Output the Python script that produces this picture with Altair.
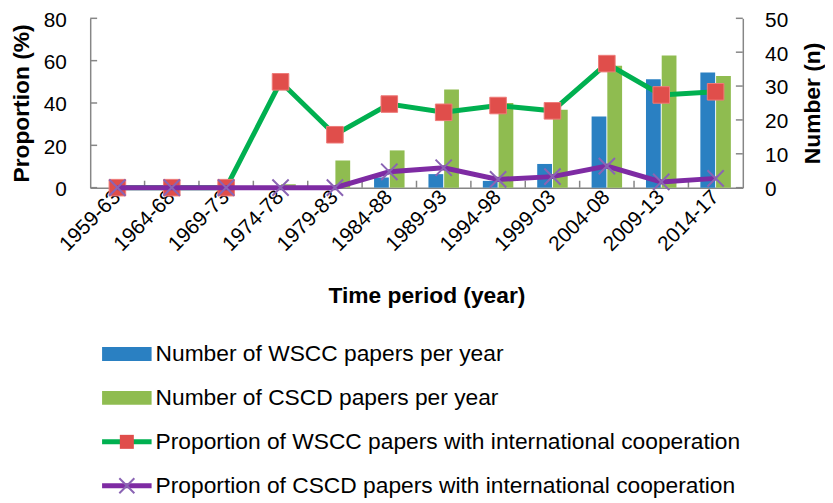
import altair as alt
import pandas as pd

periods = ["1959-63", "1964-68", "1969-73", "1974-78", "1979-83", "1984-88",
           "1989-93", "1994-98", "1999-03", "2004-08", "2009-13", "2014-17"]
wscc_papers = [0, 0, 0, 0, 0, 3, 4, 2, 7, 21, 32, 34]
cscd_papers = [0, 0, 0, 1, 8, 11, 29, 25, 23, 36, 39, 33]
wscc_intl = [0, 0, 0, 50, 25, 39.5, 35.6, 38.8, 36.3, 58.6, 43.8, 45.3]
cscd_intl = [0, 0, 0, 0, 0, 7.5, 9.4, 3.9, 5.2, 10.2, 2.7, 4.4]
legend_labels = ["Number of WSCC papers per year",
                 "Number of CSCD papers per year",
                 "Proportion of WSCC papers with international cooperation",
                 "Proportion of CSCD papers with international cooperation"]
left_ticks = [0, 20, 40, 60, 80]
right_ticks = [0, 10, 20, 30, 40, 50]

FONT = "Liberation Sans, Arial, sans-serif"
BLUE = "#2A80C2"
GREEN_BAR = "#8FBC50"
GREEN_LINE = "#00B050"
RED = "#E04E4B"
PURPLE = "#7E2BA3"
CROSS = "#8A64B4"
AXIS = "#868686"
W, H = 659, 171
TICK_FS = 21
TITLE_FS = 23
LEG_FS = 23

bars_df = pd.DataFrame({
    "period": periods * 2,
    "series": ["WSCC"] * len(periods) + ["CSCD"] * len(periods),
    "value": wscc_papers + cscd_papers,
})
lines_df = pd.DataFrame({
    "period": periods * 2,
    "series": ["WSCC"] * len(periods) + ["CSCD"] * len(periods),
    "prop": wscc_intl + cscd_intl,
})

x_axis = alt.Axis(title="Time period (year)", labelAngle=315, labelAlign="right",
                  labelBaseline="middle", labelPadding=6, ticks=False,
                  domainColor=AXIS, domainWidth=1.5, labelFontSize=TICK_FS,
                  labelColor="black", titleFontSize=TITLE_FS, titleFontWeight="bold",
                  titlePadding=30, titleX=W / 2 + 10, grid=False, labelOverlap=False)
x_enc = alt.X("period:N", sort=periods,
              scale=alt.Scale(paddingInner=0, paddingOuter=0), axis=x_axis)

right_scale = alt.Scale(domain=[0, 50], nice=False)
right_axis = alt.Axis(orient="right", values=right_ticks, ticks=False, grid=False,
                      domainColor=AXIS, domainWidth=1.5, labelPadding=22,
                      labelAlign="left", labelOverlap=False, labelOffset=2,
                      labelFontSize=TICK_FS, labelColor="black",
                      title="Number (n)", titleAngle=270, titleBaseline="top",
                      titleFontSize=TITLE_FS,
                      titleFontWeight="bold", titlePadding=14)
y_right = alt.Y("value:Q", scale=right_scale, axis=right_axis)

bars = alt.Chart(bars_df).mark_bar().encode(
    x=x_enc,
    xOffset=alt.XOffset("series:N", sort=["WSCC", "CSCD"],
                        scale=alt.Scale(paddingInner=0.06, paddingOuter=0.76)),
    y=y_right,
    color=alt.Color("series:N", scale=alt.Scale(domain=["WSCC", "CSCD"], range=[BLUE, GREEN_BAR]),
                    legend=None),
)

right_tick_df = pd.DataFrame({"value": right_ticks})
right_tick_rules = alt.Chart(right_tick_df).mark_rule(color=AXIS, strokeWidth=1.5).encode(
    y=y_right,
    x=alt.value(W - 7), x2=alt.value(W),
)
bar_group = alt.layer(bars, right_tick_rules)

left_scale = alt.Scale(domain=[0, 80], nice=False)
left_axis = alt.Axis(orient="left", values=left_ticks, ticks=False, grid=False,
                     domainColor=AXIS, domainWidth=1.5, labelPadding=24,
                     labelAlign="right", labelOverlap=False, labelOffset=2,
                     labelFontSize=TICK_FS, labelColor="black",
                     title="Proportion (%)", titleFontSize=TITLE_FS,
                     titleFontWeight="bold", titlePadding=10)
y_left = alt.Y("prop:Q", scale=left_scale, axis=left_axis)

wscc = alt.Chart(lines_df).transform_filter(alt.datum.series == "WSCC")
cscd = alt.Chart(lines_df).transform_filter(alt.datum.series == "CSCD")
green_line = wscc.mark_line(color=GREEN_LINE, strokeWidth=5).encode(x=x_enc, y=y_left)
red_pts = wscc.mark_point(shape="square", filled=True, size=280, color=RED, opacity=1,
                          stroke="#EE7A78", strokeWidth=1).encode(x=x_enc, y=y_left)
purple_line = cscd.mark_line(color=PURPLE, strokeWidth=5).encode(x=x_enc, y=y_left)
crosses = cscd.mark_point(shape="M-1,-1L1,1M-1,1L1,-1", filled=False, size=270,
                          color=CROSS, strokeWidth=2, opacity=1).encode(x=x_enc, y=y_left)

left_tick_df = pd.DataFrame({"prop": left_ticks})
left_tick_rules = alt.Chart(left_tick_df).mark_rule(color=AXIS, strokeWidth=1.5).encode(
    y=y_left,
    x=alt.value(0), x2=alt.value(7),
)

x_tick_df = pd.DataFrame({"period": periods[1:]})
x_tick_rules = alt.Chart(x_tick_df).mark_rule(color=AXIS, strokeWidth=1.5).encode(
    x=alt.X("period:N", sort=periods, bandPosition=0,
            scale=alt.Scale(paddingInner=0, paddingOuter=0), axis=x_axis),
    y=alt.value(H - 7), y2=alt.value(H),
)

line_group = alt.layer(left_tick_rules, x_tick_rules, green_line, red_pts, purple_line, crosses)

# legend
legend_df = pd.DataFrame({"label": legend_labels, "row": [0, 1, 2, 3]})
ly = alt.Y("row:Q", scale=alt.Scale(domain=[0, 3], range=[339, 472]), axis=None)
leg = alt.Chart(legend_df)
SX1, SX2, MX, TX = 12, 62, 37, 66
leg_layers = [
    leg.transform_filter(alt.datum.row == 0).mark_rule(color=BLUE, strokeWidth=14, strokeCap="butt").encode(
        y=ly, x=alt.value(SX1), x2=alt.value(SX2)),
    leg.transform_filter(alt.datum.row == 1).mark_rule(color=GREEN_BAR, strokeWidth=14, strokeCap="butt").encode(
        y=ly, x=alt.value(SX1), x2=alt.value(SX2)),
    leg.transform_filter(alt.datum.row == 2).mark_rule(color=GREEN_LINE, strokeWidth=5).encode(
        y=ly, x=alt.value(SX1), x2=alt.value(SX2)),
    leg.transform_filter(alt.datum.row == 2).mark_point(shape="square", filled=True, size=200,
                                                         color=RED, opacity=1).encode(
        y=ly, x=alt.value(MX)),
    leg.transform_filter(alt.datum.row == 3).mark_rule(color=PURPLE, strokeWidth=5).encode(
        y=ly, x=alt.value(SX1), x2=alt.value(SX2)),
    leg.transform_filter(alt.datum.row == 3).mark_point(shape="M-1,-1L1,1M-1,1L1,-1", filled=False,
                                                         size=230, color=CROSS, strokeWidth=2,
                                                         opacity=1).encode(
        y=ly, x=alt.value(MX)),
    leg.mark_text(align="left", baseline="middle", fontSize=LEG_FS, font=FONT, color="black").encode(
        y=ly, x=alt.value(TX), text="label:N"),
]
legend_group = alt.layer(*leg_layers)

chart = alt.layer(bar_group, line_group, legend_group).resolve_scale(
    y="independent"
).properties(
    width=W, height=H,
    autosize=alt.AutoSizeParams(type="none"),
    padding={"left": 83, "top": 8, "right": 83, "bottom": 316},
).configure_view(stroke=None).configure_axis(
    labelFont=FONT, titleFont=FONT
).configure_text(font=FONT)

chart.save("out.html", embed_options={"renderer": "svg", "actions": False})
